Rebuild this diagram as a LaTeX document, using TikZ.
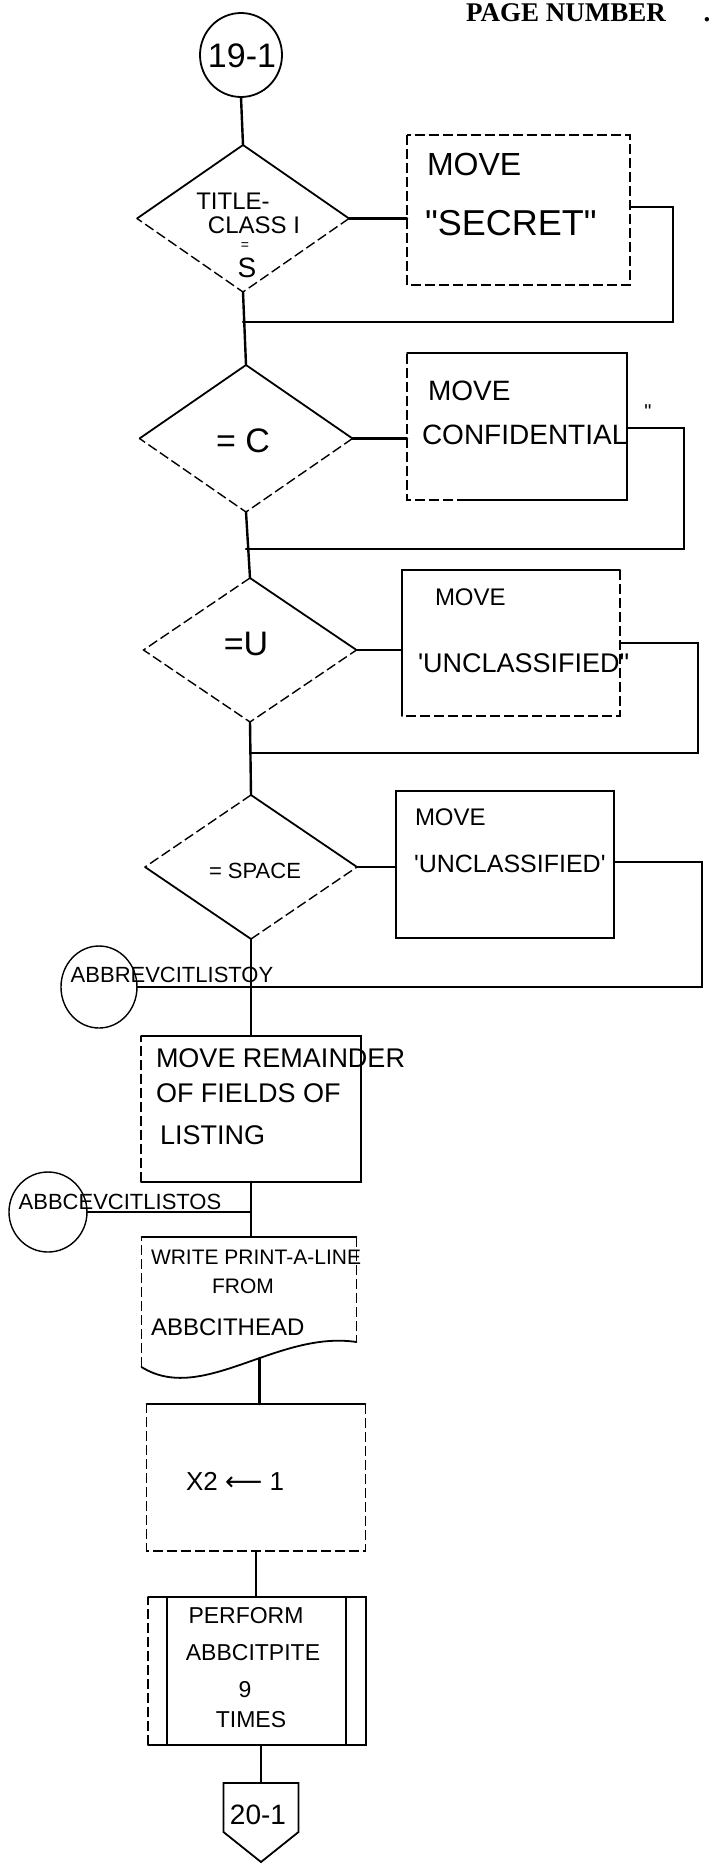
\documentclass[tikz,border=0pt]{standalone}
\usepackage{fontspec}
\setmainfont{Liberation Sans}
\newfontfamily\pgfont{Liberation Serif}
\newfontfamily\symfont{DejaVu Sans}
\usetikzlibrary{shapes.geometric}
\tikzset{
  conn/.style={line width=2.4pt, line cap=round},
  edge/.style={line width=1.8pt, line cap=round},
  faint/.style={line width=1.4pt, dash pattern=on 10pt off 4pt},
  txt/.style={inner sep=0pt, outer sep=0pt, font=\fontsize{#1}{#1}\selectfont},
  box/.style={rectangle, inner sep=0pt, outer sep=0pt},
  dia/.style={diamond, inner sep=0pt, outer sep=0pt},
  conc/.style={ellipse, inner sep=0pt, outer sep=0pt},
}
\begin{document}
\begin{tikzpicture}[x=1pt,y=-1pt]
\useasboundingbox (0,0) rectangle (713,1866);
\fill[white] (0,0) rectangle (713,1866);

% header
\node[anchor=base west, inner sep=0pt, font=\pgfont\bfseries\fontsize{27}{27}\selectfont] (pn) at (466,21) {PAGE NUMBER};
\node[anchor=base, inner sep=0pt, font=\pgfont\bfseries\fontsize{27}{27}\selectfont] (pnd) at (707,21) {.};

% start connector
\node[conc, minimum width=82pt, minimum height=84pt, draw, edge] (c19) at (241,55) {};
\node[txt=34] (t19) at (242,56) {19-1};

% decision 1
\node[dia, minimum width=212pt, minimum height=147pt] (d1) at (243,218.5) {};
\draw[edge] (d1.west) -- (d1.north) -- (d1.east);
\draw[faint] (d1.east) -- (d1.south) -- (d1.west);
\node[txt=24] (d1a) at (233,201) {TITLE-};
\node[txt=24] (d1b) at (254,225) {CLASS I};
\node[txt=14] (d1c) at (245,246) {=};
\node[txt=28] (d1d) at (247,268) {S};
\draw[conn] (c19.south) -- (d1.north);

% box 1
\node[box, minimum width=223pt, minimum height=150pt] (b1) at (518.5,210) {};
\draw[faint] (b1.north west) rectangle (b1.south east);
\node[txt=32, anchor=west] (b1a) at (427,164) {MOVE};
\node[txt=36, anchor=west] (b1b) at (425,223) {\textquotedbl SECRET\textquotedbl};
\draw[conn] (d1.east) -- (d1.east -| b1.west);
\coordinate (r1) at (673,322);
\draw[conn] (b1.east |- 0,207) -| (r1) -- (r1 -| d1.south);

% decision 2
\node[dia, minimum width=213pt, minimum height=147pt] (d2) at (246,438.5) {};
\draw[edge] (d2.west) -- (d2.north) -- (d2.east);
\draw[faint] (d2.east) -- (d2.south) -- (d2.west);
\node[txt=34] (d2t) at (243,441) {= C};
\draw[conn] (d1.south) -- (d2.north);

% box 2
\node[box, minimum width=220pt, minimum height=147pt] (b2) at (517,426.5) {};
\draw[edge] (b2.north west) -- (b2.north east) -- (b2.south east) -- ([xshift=60pt]b2.south west);
\draw[faint] ([xshift=60pt]b2.south west) -- (b2.south west) -- (b2.north west);
\node[txt=28, anchor=west] (b2a) at (428,391) {MOVE};
\node[txt=28, anchor=west] (b2b) at (422,435) {CONFIDENTIAL};
\node[txt=20] (b2q) at (648,412) {\textquotedbl};
\draw[conn] (d2.east) -- (d2.east -| b2.west);
\coordinate (r2) at (684,549);
\draw[conn] (b2.east |- 0,428) -| (r2) -- (r2 -| d2.south);

% decision 3
\node[dia, minimum width=213pt, minimum height=144pt] (d3) at (250,650) {};
\draw[edge] (d3.north) -- (d3.east);
\draw[faint] (d3.north) -- (d3.west) -- (d3.south) -- (d3.east);
\node[txt=34] (d3t) at (246,644) {=U};
\draw[conn] (d2.south) -- (d3.north);

% box 3
\node[box, minimum width=218pt, minimum height=146pt] (b3) at (511,643) {};
\draw[edge] (b3.south west) -- (b3.north west) -- (b3.north east);
\draw[faint] (b3.north east) -- (b3.south east) -- (b3.south west);
\node[txt=24, anchor=west] (b3a) at (435,597) {MOVE};
\node[txt=27, anchor=west] (b3b) at (418,663) {\textquotesingle UNCLASSIFIED\textquotedbl};
\draw[conn] (d3.east) -- (d3.east -| b3.west);
\coordinate (r3) at (698,753);
\draw[conn] (b3.east |- 0,643) -| (r3) -- (r3 -| d3.south);

% decision 4
\node[dia, minimum width=212pt, minimum height=144pt] (d4) at (251,867) {};
\draw[edge] (d4.north) -- (d4.east);
\draw[edge] (d4.west) -- (d4.south);
\draw[faint] (d4.north) -- (d4.west);
\draw[faint] (d4.south) -- (d4.east);
\node[txt=22] (d4t) at (255,871) {= SPACE};
\draw[conn] (d3.south) -- (d4.north);

% box 4
\node[box, minimum width=218pt, minimum height=147pt] (b4) at (505,864.5) {};
\draw[edge] (b4.north west) rectangle (b4.south east);
\node[txt=24, anchor=west] (b4a) at (415,817) {MOVE};
\node[txt=25, anchor=west] (b4b) at (414,864) {\textquotesingle UNCLASSIFIED\textquotesingle};
\draw[conn] (d4.east) -- (d4.east -| b4.west);

% connector A
\node[conc, minimum width=76pt, minimum height=82pt] (cA) at (99,987) {};
\draw[line width=1.4pt] (cA) ellipse [x radius=38pt, y radius=41pt];
\node[txt=22] (cAt) at (172,975) {ABBREVCITLISTOY};
\coordinate (r4) at (702,987);
\draw[conn] (b4.east |- 0,862) -| (r4) -- (cA.east);

% box 5
\node[box, minimum width=220pt, minimum height=146pt] (b5) at (251,1109) {};
\draw[edge] (b5.north west) -- (b5.north east) -- (b5.south east) -- (b5.south west);
\draw[faint] (b5.south west) -- (b5.north west);
\node[txt=27, anchor=west] (b5a) at (156,1058) {MOVE REMAINDER};
\node[txt=27, anchor=west] (b5b) at (156,1093) {OF FIELDS OF};
\node[txt=27, anchor=west] (b5c) at (160,1135) {LISTING};
\draw[conn] (d4.south) -- (b5.north);

% connector B
\node[conc, minimum width=78pt, minimum height=80pt] (cB) at (48,1212) {};
\draw[line width=1.4pt] (cB) ellipse [x radius=39pt, y radius=40pt];
\node[txt=22] (cBt) at (120,1202) {ABBCEVCITLISTOS};

% document
\node[box, minimum width=215pt, minimum height=130pt] (doc) at (249,1302) {};
\draw[edge] (doc.north west) -- (doc.north east);
\draw[faint] (doc.north east) -- ([yshift=25pt]doc.south east);
\draw[edge] ([yshift=25pt]doc.south east) .. controls (277,1330) and (202,1405) .. coordinate[pos=0.42] (docb) (doc.south west);
\draw[faint] (doc.south west) -- (doc.north west);
\node[txt=21, anchor=west] (da) at (151,1257) {WRITE PRINT-A-LINE};
\node[txt=21] (db) at (243,1286) {FROM};
\node[txt=24, anchor=west] (dc) at (151,1327) {ABBCITHEAD};
\draw[conn] (b5.south) -- (b5.south |- doc.north);
\draw[conn] (cB.east) -- (cB.east -| b5.south);

% box 7
\node[box, minimum width=219pt, minimum height=147pt] (b7) at (256,1477.5) {};
\draw[edge] (b7.north west) -- (b7.north east);
\draw[faint] (b7.north east) -- (b7.south east) -- (b7.south west) -- (b7.north west);
\node[txt=26] (b7t) at (235,1481) {X2 {\symfont ⟵} 1};
\draw[conn] (docb) -- (docb |- b7.north);

% box 8 (predefined process)
\node[box, minimum width=218pt, minimum height=148pt] (b8) at (257,1671) {};
\draw[edge] (b8.north west) -- (b8.north east) -- (b8.south east) -- (b8.south west);
\draw[faint] (b8.south west) -- (b8.north west);
\draw[edge] ([xshift=19pt]b8.north west) -- ([xshift=19pt]b8.south west);
\draw[edge] ([xshift=-20pt]b8.north east) -- ([xshift=-20pt]b8.south east);
\node[txt=23] (b8a) at (246,1616) {PERFORM};
\node[txt=23] (b8b) at (253,1653) {ABBCITPITE};
\node[txt=23] (b8c) at (245,1690) {9};
\node[txt=23] (b8d) at (251,1720) {TIMES};
\draw[conn] (b7.south) -- (b7.south |- b8.north);

% off-page connector
\node[box, minimum width=75pt, minimum height=79pt] (off) at (261,1822.5) {};
\draw[edge] (off.north west) -- (off.north east) -- ([yshift=30pt]off.south east) -- (off.south) -- ([yshift=30pt]off.south west) -- cycle;
\node[txt=28] (offt) at (258,1815) {20-1};
\draw[conn] (off.north |- b8.south) -- (off.north);
\end{tikzpicture}
\end{document}
